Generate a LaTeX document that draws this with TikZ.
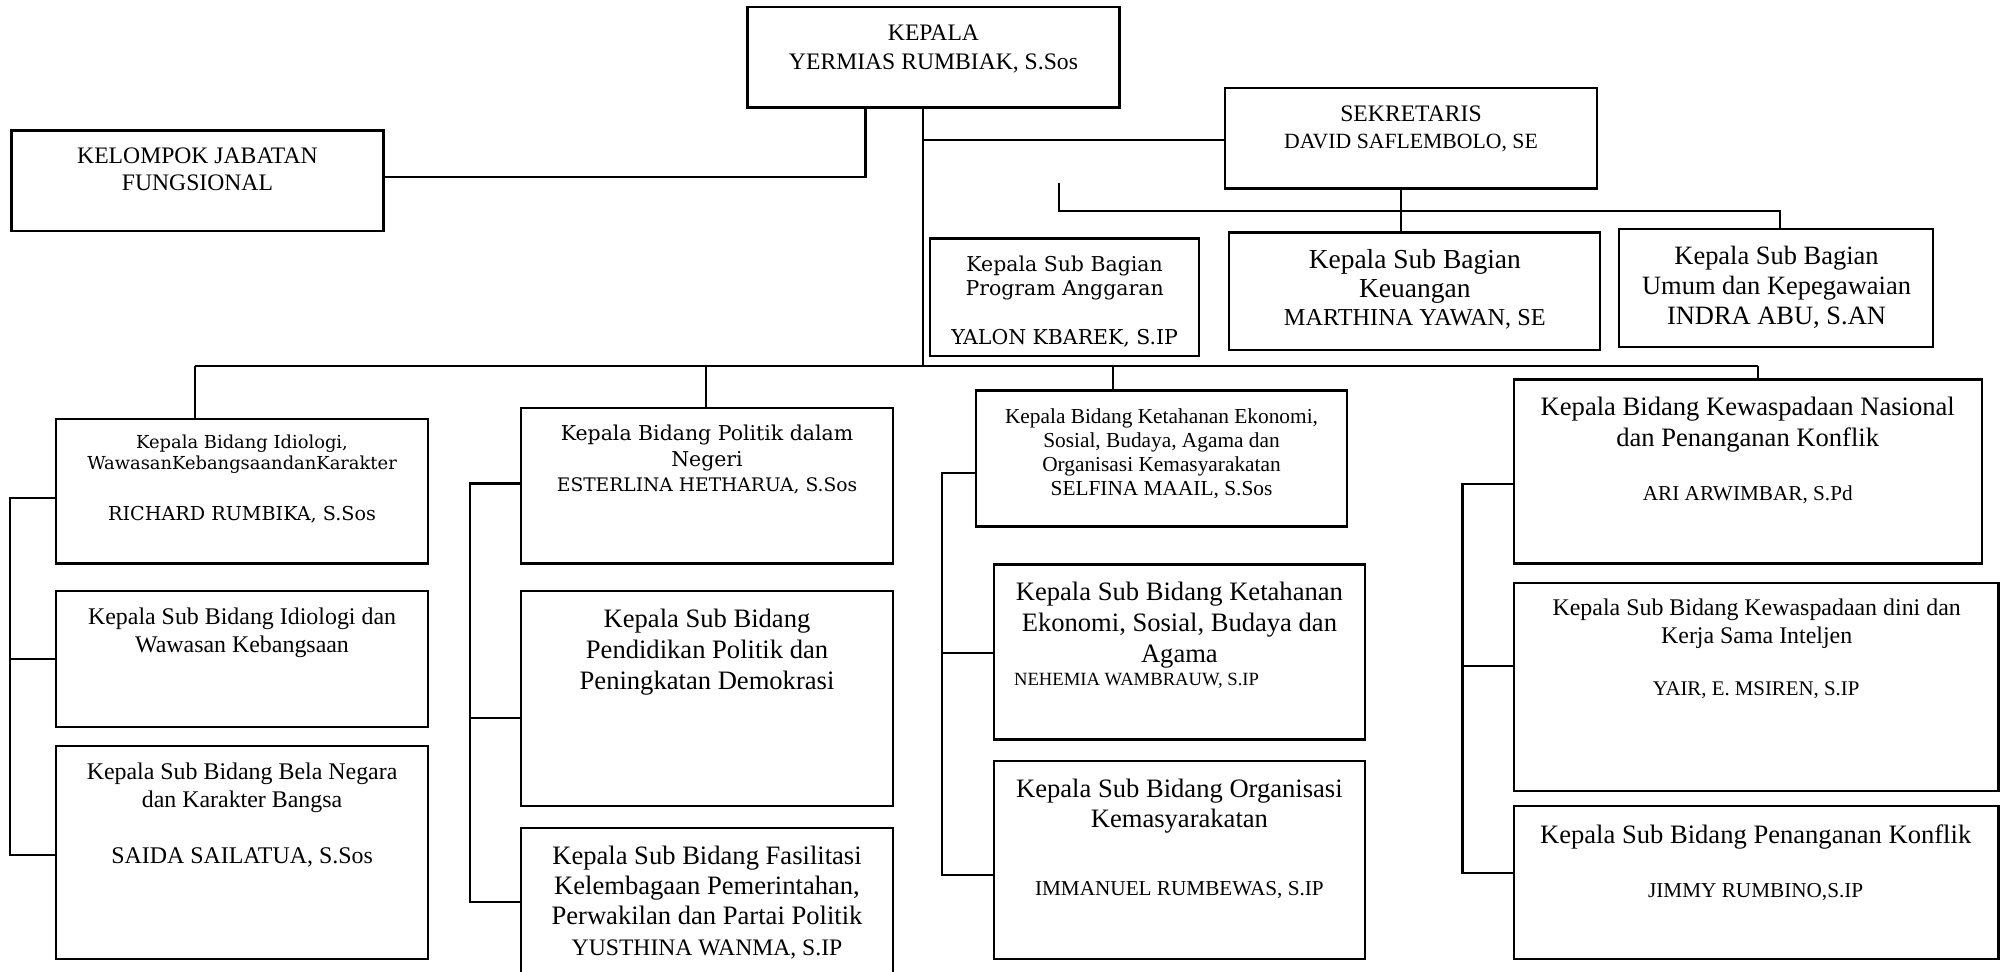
\documentclass[tikz,border=0pt]{standalone}
\usepackage{fontspec}
\setmainfont{Liberation Serif}
\newfontfamily\bkfont{DejaVu Serif}
\usetikzlibrary{fit}
\newcommand\fsz[2]{\fontsize{#1}{#2}\selectfont}
\begin{document}
\begin{tikzpicture}[x=1pt,y=-1pt,
  box/.style={draw, line width=1.8pt, inner sep=0pt, outer sep=0pt},
  txt/.style={inner sep=0pt, outer sep=0pt, align=center, anchor=north},
  conn/.style={line width=1.6pt}]
\useasboundingbox (0,0) rectangle (1568,760);

% ---------- top level ----------
\node[box, fit={(584.8,5.7) (876,84)}] (kepala) {};
\node[txt, font=\fsz{18.5}{22.3}] (kepalaT) at (730.4,19.5) {KEPALA\\YERMIAS RUMBIAK, S.Sos};

\node[box, fit={(9,102.2) (300,180.5)}] (jf) {};
\node[txt, font=\fsz{18.5}{21.4}] (jfT) at (154.5,115.5) {KELOMPOK JABATAN\\FUNGSIONAL};

\node[box, fit={(958.6,69) (1249.7,147.4)}] (sek) {};
\node[txt, font=\fsz{18.5}{20.8}] (sekT) at (1104,83) {SEKRETARIS\\{\fsz{17}{20.8}DAVID SAFLEMBOLO, SE}};

\node[box, fit={(727.5,186.5) (938.3,278.3)}] (prog) {};
\node[txt, font=\bkfont\fsz{16}{19.2}] (progT) at (833,200) {Kepala Sub Bagian\\Program Anggaran\\[19.2pt]YALON KBAREK, S.IP};

\node[box, fit={(961.8,182) (1252,274)}] (keu) {};
\node[txt, font=\fsz{21.5}{22}] (keuT) at (1107,195.5) {Kepala Sub Bagian\\Keuangan\\{\fsz{19}{22}MARTHINA YAWAN, SE}};

\node[box, fit={(1267,179) (1512.5,271.5)}] (umum) {};
\node[txt, font=\fsz{20.7}{23.3}] (umumT) at (1390,192.8) {Kepala Sub Bagian\\Umum dan Kepegawaian\\INDRA ABU, S.AN};

% ---------- top connectors ----------
\coordinate (jfc) at (677.2,138.2);
\draw[conn] (jf.east |- jfc) -- (jfc) -- (jfc |- kepala.south);
\coordinate (trunk) at (722,286.5);
\draw[conn] (trunk |- kepala.south) -- (trunk);
\coordinate (sekc) at (722,109.5);
\draw[conn] (sekc) -- (sek.west |- sekc);
\coordinate (stub) at (828.6,143);
\coordinate (fanL) at (828.6,165);
\coordinate (fanM) at (1096.5,165);
\coordinate (fanR) at (1392.8,165);
\draw[conn] (fanM |- sek.south) -- (fanM |- keu.north);
\draw[conn] (stub) -- (fanL) -- (fanR) -- (fanR |- umum.north);

% ---------- column A ----------
\node[box, fit={(43.8,327.7) (335,441)}] (A1) {};
\node[txt, font=\bkfont\fsz{14}{16.5}] (A1T) at (189.4,340.3) {Kepala Bidang Idiologi,\\WawasanKebangsaandanKarakter};
\node[txt, font=\bkfont\fsz{15}{18}] (A1N) at (189.4,396.5) {RICHARD RUMBIKA, S.Sos};
\node[box, fit={(43.8,462.6) (335,569)}] (A2) {};
\node[txt, font=\fsz{18.7}{22.2}] (A2T) at (189.4,475.4) {Kepala Sub Bidang Idiologi dan\\Wawasan Kebangsaan};
\node[box, fit={(43.8,583.8) (335,750.4)}] (A3) {};
\node[txt, font=\fsz{18.7}{22}] (A3T) at (189.4,596.6) {Kepala Sub Bidang Bela Negara\\dan Karakter Bangsa\\[22pt]SAIDA SAILATUA, S.Sos};

% ---------- column B ----------
\node[box, fit={(407.7,319.5) (698.7,441)}] (B1) {};
\node[txt, font=\bkfont\fsz{16}{20}] (B1T) at (553.2,332.7) {Kepala Bidang Politik dalam\\Negeri\\{\fsz{14.6}{20}ESTERLINA HETHARUA, S.Sos}};
\node[box, fit={(407.7,462.6) (698.7,630.8)}] (B2) {};
\node[txt, font=\fsz{20.8}{23.9}] (B2T) at (553.2,476.9) {Kepala Sub Bidang\\Pendidikan Politik dan\\Peningkatan Demokrasi};
\begin{scope}
\clip (0,0) rectangle (1568,760);
\node[box, fit={(407.7,647.7) (698.7,780)}] (B3) {};
\end{scope}
\node[txt, font=\fsz{20.8}{23.7}] (B3T) at (553.2,661.9) {Kepala Sub Bidang Fasilitasi\\Kelembagaan Pemerintahan,\\Perwakilan dan Partai Politik\\{\fsz{18.5}{23.7}YUSTHINA WANMA, S.IP}};

% ---------- column C ----------
\node[box, fit={(763.5,305.6) (1054,412)}] (C1) {};
\node[txt, font=\fsz{16.7}{18.8}] (C1T) at (908.8,319.9) {Kepala Bidang Ketahanan Ekonomi,\\Sosial, Budaya, Agama dan\\Organisasi Kemasyarakatan\\SELFINA MAAIL, S.Sos};
\node[box, fit={(777.5,441.6) (1068,578.7)}] (C2) {};
\node[txt, font=\fsz{20.8}{24.2}] (C2T) at (922.8,455.7) {Kepala Sub Bidang Ketahanan\\Ekonomi, Sosial, Budaya dan\\Agama};
\node[txt, anchor=north west, font=\fsz{14.6}{17}] (C2N) at (793.4,526.8) {NEHEMIA WAMBRAUW, S.IP};
\node[box, fit={(777.5,595.3) (1068,750.4)}] (C3) {};
\node[txt, font=\fsz{20.8}{23.3}] (C3T) at (922.8,609.6) {Kepala Sub Bidang Organisasi\\Kemasyarakatan};
\node[txt, font=\fsz{16.6}{19}] (C3N) at (922.8,689.4) {IMMANUEL RUMBEWAS, S.IP};

% ---------- column D ----------
\node[box, fit={(1184.4,297) (1550.5,441)}] (D1) {};
\node[txt, font=\fsz{20.8}{24.2}] (D1T) at (1367.5,310.7) {Kepala Bidang Kewaspadaan Nasional\\dan Penanganan Konflik};
\node[txt, font=\fsz{16.6}{19}] (D1N) at (1367.5,379.8) {ARI ARWIMBAR, S.Pd};
\node[box, fit={(1184.4,456) (1563.6,619)}] (D2) {};
\node[txt, font=\fsz{18.7}{22}] (D2T) at (1374.5,468.6) {Kepala Sub Bidang Kewaspadaan dini dan\\Kerja Sama Inteljen};
\node[txt, font=\fsz{16.3}{19}] (D2N) at (1374,533.3) {YAIR, E. MSIREN, S.IP};
\node[box, fit={(1184.4,630.8) (1563.6,750.4)}] (D3) {};
\node[txt, font=\fsz{20.8}{24}] (D3T) at (1373.7,645.3) {Kepala Sub Bidang Penanganan Konflik};
\node[txt, font=\fsz{16.6}{19}] (D3N) at (1373.7,690.9) {JIMMY RUMBINO,S.IP};

% ---------- bus and drops ----------
\coordinate (busL) at (152.6,286.5);
\coordinate (busR) at (1375.6,286.5);
\coordinate (dB) at (552.4,286.5);
\coordinate (dC) at (871,286.5);
\draw[conn] (busL) -- (busR);
\draw[conn] (busL) -- (busL |- A1.north);
\draw[conn] (dB) -- (dB |- B1.north);
\draw[conn] (dC) -- (dC |- C1.north);
\draw[conn] (busR) -- (busR |- D1.north);

% ---------- brackets ----------
\coordinate (a1) at (7.8,389.7);
\coordinate (a2) at (7.8,515.6);
\coordinate (a3) at (7.8,669);
\draw[conn] (A1.west |- a1) -- (a1) -- (a3) -- (A3.west |- a3);
\draw[conn] (a2) -- (A2.west |- a2);

\coordinate (b1) at (368,378.3);
\coordinate (b2) at (368,561.5);
\coordinate (b3) at (368,706);
\draw[conn] (B1.west |- b1) -- (b1) -- (b3) -- (B3.west |- b3);
\draw[conn] (b2) -- (B2.west |- b2);

\coordinate (c1) at (737,370);
\coordinate (c2) at (737,511);
\coordinate (c3) at (737,684.8);
\draw[conn] (C1.west |- c1) -- (c1) -- (c3) -- (C3.west |- c3);
\draw[conn] (c2) -- (C2.west |- c2);

\coordinate (d1) at (1144.3,378.8);
\coordinate (d2) at (1144.3,521);
\coordinate (d3) at (1144.3,683);
\draw[conn] (D1.west |- d1) -- (d1) -- (d3) -- (D3.west |- d3);
\draw[conn] (d2) -- (D2.west |- d2);
\end{tikzpicture}
\end{document}
